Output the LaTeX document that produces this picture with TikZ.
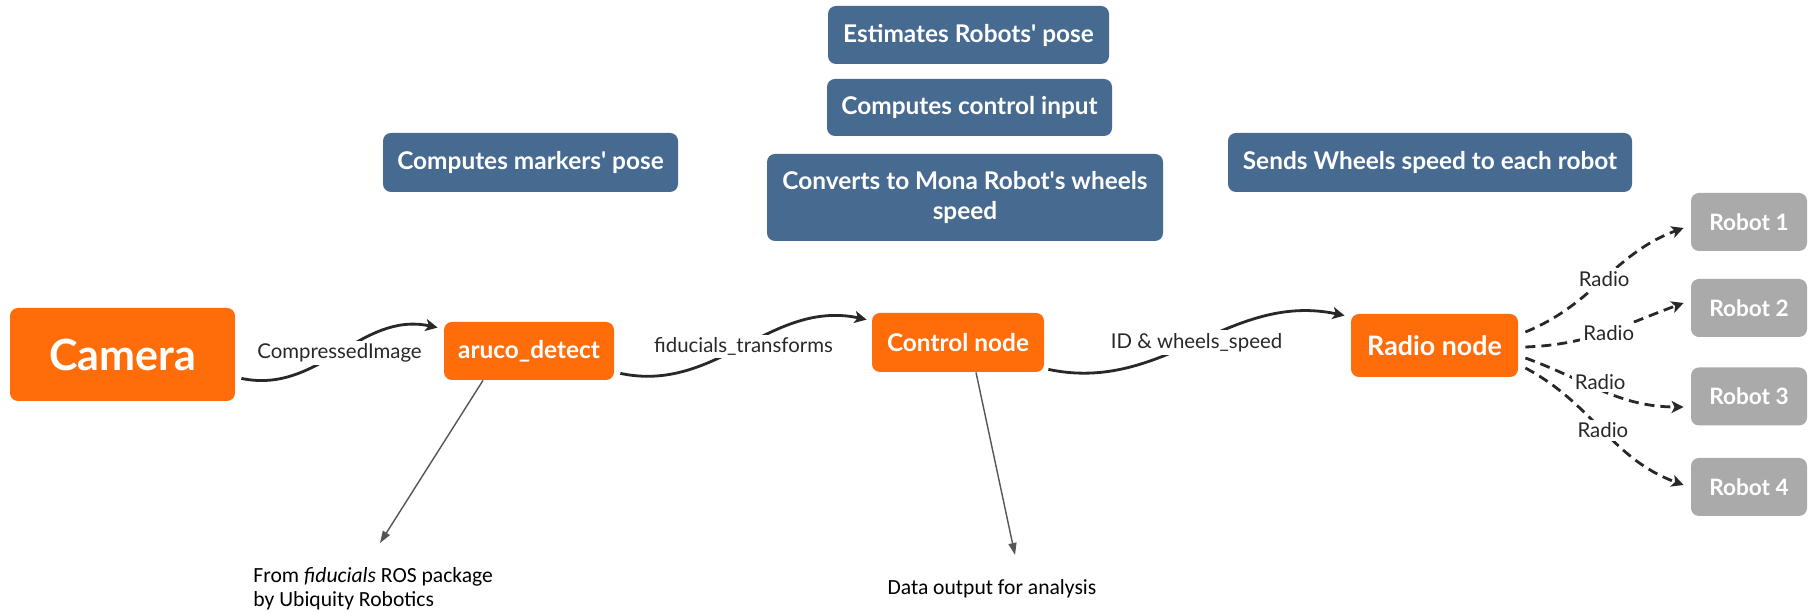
\documentclass[tikz,border=0pt]{standalone}
\usepackage{fontspec}
\setmainfont{Lato}
\newfontfamily\notefont{Carlito}
\usetikzlibrary{arrows.meta,calc}

\definecolor{panelblue}{RGB}{70,106,144}
\definecolor{nodeorange}{RGB}{255,108,10}
\definecolor{robotgray}{RGB}{170,170,170}
\definecolor{wire}{RGB}{40,40,40}
\definecolor{leader}{RGB}{85,85,85}

\newcommand{\apos}{\textquotesingle}

\begin{document}
\begin{tikzpicture}[x=0.5pt,y=0.5pt,
  box/.style={rounded corners=4pt, text=white, align=center, inner sep=0pt,
    font=\bfseries\fontsize{12.2}{15}\selectfont},
  infobox/.style={box, fill=panelblue},
  procbox/.style={box, fill=nodeorange},
  robotbox/.style={box, fill=robotgray, minimum width=58pt, minimum height=29pt,
    font=\bfseries\fontsize{11.3}{14}\selectfont},
  flow/.style={draw=wire, line width=1.4pt, -{Stealth[length=6pt,width=6pt,inset=1.5pt]}},
  radiolink/.style={flow, dash pattern=on 5pt off 3pt},
  flowlabel/.style={fill=white, text=wire, inner sep=1.5pt,
    font=\fontsize{10.2}{12}\selectfont},
  leaderline/.style={draw=leader, line width=0.7pt, -{Triangle[length=6pt,width=4pt]}},
  note/.style={font=\notefont\fontsize{10.8}{12.2}\selectfont, align=left, inner sep=0pt}
]
\useasboundingbox (0,0) rectangle (1812,613);
\fill[white] (0,0) rectangle (1812,613);

% description panels
\node[infobox, minimum width=140.5pt, minimum height=29pt] (est) at (968.5,578) {Estimates Robots\apos{} pose};
\node[infobox, minimum width=142.5pt, minimum height=28.5pt] (cci) at (969.5,505.5) {Computes control input};
\node[infobox, minimum width=198pt, minimum height=43.5pt] (conv) at (965,415.5) {Converts to Mona Robot\apos{}s wheels\\speed};
\node[infobox, minimum width=147.5pt, minimum height=29.5pt] (cmp) at (530.5,450.5) {Computes markers\apos{} pose};
\node[infobox, minimum width=202pt, minimum height=29.5pt] (send) at (1430,450.5) {Sends Wheels speed to each robot};

% processing chain
\node[procbox, minimum width=112.5pt, minimum height=46.5pt,
  font=\bfseries\fontsize{21.5}{24}\selectfont] (camera) at (122.5,258.5) {Camera};
\node[procbox, minimum width=85pt, minimum height=29pt] (aruco) at (529,262) {aruco\_detect};
\node[procbox, minimum width=86pt, minimum height=29.5pt] (control) at (958,270.5) {Control node};
\node[procbox, minimum width=83.5pt, minimum height=31.5pt,
  font=\bfseries\fontsize{13.4}{15}\selectfont] (radio) at (1434.5,267.5) {Radio node};

% robots
\node[robotbox] (r1) at (1749,391) {Robot 1};
\node[robotbox] (r2) at (1749,305) {Robot 2};
\node[robotbox] (r3) at (1749,216.5) {Robot 3};
\node[robotbox] (r4) at (1749,126) {Robot 4};

% topic connectors
\draw[flow] ([shift={(6,23)}]camera.south east) to[out=-12,in=168]
  node[flowlabel] {CompressedImage} ([shift={(-6,-6)}]aruco.north west);
\draw[flow] ([shift={(6,7)}]aruco.south east) to[out=-12,in=168]
  node[flowlabel] {fiducials\_transforms} ([shift={(-5,-7)}]control.north west);
\draw[flow] ([shift={(4,3)}]control.south east) to[out=-12,in=168]
  node[flowlabel] {ID \& wheels\_speed} ([shift={(-6,-2)}]radio.north west);

% radio links
\draw[radiolink] ([shift={(7,13.5)}]radio.east) to[out=22,in=200]
  node[flowlabel] {Radio} ([shift={(-7,-6)}]r1.west);
\draw[radiolink] ([shift={(7,-1.5)}]radio.east) to[out=2,in=200]
  node[flowlabel, pos=0.52, yshift=-1pt] {Radio} ([shift={(-7,5)}]r2.west);
\draw[radiolink] ([shift={(7,-12.5)}]radio.east) to[out=-20,in=180]
  node[flowlabel, pos=0.48, yshift=4pt] {Radio} ([shift={(-7,-10.5)}]r3.west);
\draw[radiolink] ([shift={(7,-22.5)}]radio.east) to[out=-28,in=160]
  node[flowlabel] {Radio} ([shift={(-7,2)}]r4.west);

% annotations
\node[note, anchor=west] (srcnote) at (253,24) {From \textit{fiducials} ROS package\\by Ubiquity Robotics};
\node[note] (datanote) at (992,24) {Data output for analysis};
\coordinate (srctip) at (380,70);
\coordinate (datatip) at (1015,58);
\draw[leaderline] ([shift={(-46,0)}]aruco.south) -- (srctip);
\draw[leaderline] ([shift={(18,0)}]control.south) -- (datatip);
\end{tikzpicture}
\end{document}
